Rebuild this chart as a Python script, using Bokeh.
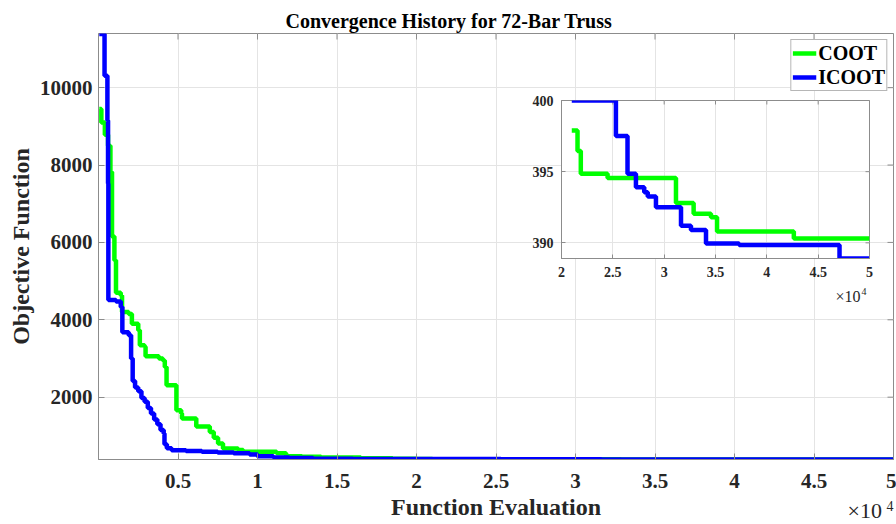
import math
from bokeh.plotting import figure
from bokeh.models import Range1d, FixedTicker, Legend, LegendItem, Label
from bokeh.embed import file_html
from bokeh.resources import INLINE

# ---------------- data ----------------
coot_fe = [50, 180, 400, 600, 750, 850, 1000, 1100, 1400, 1480, 1900, 2100, 2500, 2600, 2900,
           2960, 3800, 4050, 4170, 4280, 4900, 5200, 5250, 6150, 7000, 7250, 7520, 7830, 8780, 9100,
           11200, 11800, 12800, 14000, 16500, 18500, 20000, 21000, 21560, 21880, 24490, 31150,
           32870, 34560, 35150, 42630, 50000]
coot_obj = [9450, 9100, 8780, 8500, 7820, 6150, 5540, 4700, 4630, 4200, 4150, 3900, 3730, 3340, 3300,
            3060, 3000, 2950, 2780, 2310, 1660, 1580, 1450, 1240, 1100, 950, 805, 676, 632, 590,
            548, 470, 460, 440, 420, 408, 402, 397.9, 396.45, 394.85, 394.55, 392.8,
            392.05, 391.8, 390.8, 390.3, 390.3]

icoot_fe = [50, 380, 560, 600, 620, 1100, 1400, 1500, 1900, 2050, 2150, 2300, 2500, 2700, 2900,
            3100, 3300, 3500, 3700, 3900, 4100, 4150, 4300, 4600, 5500, 6500, 7500, 8500, 9500, 10000,
            11000, 12000, 13500, 16000, 18000, 21000, 25300, 26430, 27250, 28060, 28400, 29200,
            31640, 32610, 34075, 37300, 47080, 50000]
icoot_obj = [11390, 10310, 9150, 7520, 4510, 4470, 4330, 3680, 3600, 3000, 2420, 2250, 2150, 1980, 1880,
             1720, 1580, 1420, 1300, 1150, 1060, 780, 680, 630, 610, 590, 570, 548, 520, 470,
             440, 425, 410, 405, 401, 400, 397.5, 394.85, 393.9, 393.55, 393.25, 392.5,
             391.2, 390.9, 389.95, 389.85, 388.9, 388.9]

series_names = ["COOT", "ICOOT"]
series_colors = ["#00ff00", "#0000ff"]

x_ticks = [5000, 10000, 15000, 20000, 25000, 30000, 35000, 40000, 45000, 50000]
x_tick_labels = ["0.5", "1", "1.5", "2", "2.5", "3", "3.5", "4", "4.5", "5"]
y_ticks = [2000, 4000, 6000, 8000, 10000]
y_tick_labels = ["2000", "4000", "6000", "8000", "10000"]

inset_x_ticks = [20000, 25000, 30000, 35000, 40000, 45000, 50000]
inset_x_labels = ["2", "2.5", "3", "3.5", "4", "4.5", "5"]
inset_y_ticks = [390, 395, 400]
inset_y_labels = ["390", "395", "400"]
inset_start = 21000
multiplier_base = "×10"
multiplier_exp = "4"

FONT = "Liberation Serif"
AXC = "#8c8c8c"
TXT = "#262626"
GRID = "#e4e4e4"
LW = 4.5


def style_axis(ax, ticks, labels, size, standoff, tick_in=6):
    ax.ticker = FixedTicker(ticks=ticks)
    ax.major_label_overrides = {t: l for t, l in zip(ticks, labels)}
    ax.minor_tick_line_color = None
    ax.major_tick_in = tick_in
    ax.major_tick_out = 0
    ax.axis_line_color = AXC
    ax.major_tick_line_color = AXC
    ax.major_label_text_font = FONT
    ax.major_label_text_font_style = "bold"
    ax.major_label_text_color = TXT
    ax.major_label_standoff = standoff
    ax.major_label_text_font_size = size


def box_ticks(f, xt, yt, xr, yr, size):
    # inward tick marks on the top and right edges of the box (half of each dash is clipped)
    f.scatter(xt, [yr.end] * len(xt), marker="dash", angle=math.pi / 2,
              size=size, line_color=AXC, line_width=1)
    f.scatter([xr.end] * len(yt), yt, marker="dash", angle=0,
              size=size, line_color=AXC, line_width=1)


def text_overlay(left, top, w, h, base_xy, base_size, exp_xy, exp_size):
    f = figure(title=None, frame_width=w, frame_height=h, x_range=Range1d(0, 1), y_range=Range1d(0, 1),
               x_axis_location=None, y_axis_location=None, toolbar_location=None,
               output_backend="svg", min_border=0,
               styles={"position": "absolute", "left": f"{left}px", "top": f"{top}px"})
    f.border_fill_color = None
    f.background_fill_color = None
    f.outline_line_color = None
    f.grid.visible = False
    f.add_layout(Label(x=base_xy[0], y=base_xy[1], x_units="screen", y_units="screen",
                       text=multiplier_base, text_font=FONT, text_font_size=base_size,
                       text_color=TXT, text_baseline="alphabetic", text_align="left"))
    f.add_layout(Label(x=exp_xy[0], y=exp_xy[1], x_units="screen", y_units="screen",
                       text=multiplier_exp, text_font=FONT, text_font_size=exp_size,
                       text_color=TXT, text_baseline="alphabetic", text_align="left"))
    return f


# ---------------- main figure ----------------
main_x = Range1d(0, 50000)
main_y = Range1d(388.9, 11400)
p = figure(frame_width=795, frame_height=426, x_range=main_x, y_range=main_y,
           output_backend="svg", toolbar_location=None,
           min_border_left=98, min_border_right=3, min_border_top=33, min_border_bottom=64)
p.title.text = "Convergence History for 72-Bar Truss"
p.title.text_font = FONT
p.title.text_font_style = "bold"
p.title.text_font_size = "20px"
p.title.text_color = "black"
p.title.align = "left"
p.title.offset = 187
p.title.standoff = 3

style_axis(p.xaxis[0], x_ticks, x_tick_labels, "21px", 14)
style_axis(p.yaxis[0], y_ticks, y_tick_labels, "21px", 6)
p.xaxis[0].axis_label = "Function Evaluation"
p.yaxis[0].axis_label = "Objective Function"
for ax in (p.xaxis[0], p.yaxis[0]):
    ax.axis_label_text_font = FONT
    ax.axis_label_text_font_style = "bold"
    ax.axis_label_text_font_size = "24px"
    ax.axis_label_text_color = TXT
p.xaxis[0].axis_label_standoff = 3
p.yaxis[0].axis_label_standoff = 3

p.xgrid.ticker = FixedTicker(ticks=x_ticks)
p.ygrid.ticker = FixedTicker(ticks=y_ticks)
p.grid.grid_line_color = GRID
p.outline_line_color = AXC
box_ticks(p, x_ticks, y_ticks, main_x, main_y, 12)

r_coot = p.step(coot_fe, coot_obj, mode="after", line_color=series_colors[0], line_width=LW)
r_icoot = p.step(icoot_fe, icoot_obj, mode="after", line_color=series_colors[1], line_width=LW)

legend = Legend(items=[LegendItem(label=series_names[0], renderers=[r_coot]),
                       LegendItem(label=series_names[1], renderers=[r_icoot])],
                location="top_right", margin=6, padding=1, spacing=0,
                glyph_width=24, glyph_height=24, label_standoff=2,
                label_text_font=FONT, label_text_font_style="bold", label_text_font_size="20px",
                label_text_color="black", border_line_color="#6e6e6e",
                background_fill_color="white", background_fill_alpha=1.0)
p.add_layout(legend)

# ---------------- inset ----------------
ins_x = Range1d(20000, 50000)
ins_y = Range1d(388.9, 400)
ins = figure(frame_width=308, frame_height=158, x_range=ins_x, y_range=ins_y,
             output_backend="svg", toolbar_location=None,
             min_border_left=45, min_border_right=10, min_border_top=5, min_border_bottom=30,
             styles={"position": "absolute", "left": "516px", "top": "95px"})
ins.border_fill_color = None
ins.background_fill_color = "white"
ins.outline_line_color = AXC
style_axis(ins.xaxis[0], inset_x_ticks, inset_x_labels, "14px", 8, tick_in=4)
style_axis(ins.yaxis[0], inset_y_ticks, inset_y_labels, "14px", 8, tick_in=4)
ins.xgrid.ticker = FixedTicker(ticks=inset_x_ticks)
ins.ygrid.ticker = FixedTicker(ticks=inset_y_ticks)
ins.grid.grid_line_color = GRID
box_ticks(ins, inset_x_ticks, inset_y_ticks, ins_x, ins_y, 8)

ci = [i for i, f in enumerate(coot_fe) if f >= inset_start]
bi = [i for i, f in enumerate(icoot_fe) if f >= inset_start]
ins.step([coot_fe[i] for i in ci], [coot_obj[i] for i in ci], mode="after",
         line_color=series_colors[0], line_width=LW)
ins.step([icoot_fe[i] for i in bi], [icoot_obj[i] for i in bi], mode="after",
         line_color=series_colors[1], line_width=LW)

# ---------------- x10^4 multipliers ----------------
main_mult = text_overlay(846, 490, 50, 34, (1, 14), "22px", (40, 19), "14px")
ins_mult = text_overlay(830, 278, 45, 30, (5, 12), "16px", (31, 17), "10px")

open("out.html", "w").write(file_html([p, ins, main_mult, ins_mult], INLINE))
